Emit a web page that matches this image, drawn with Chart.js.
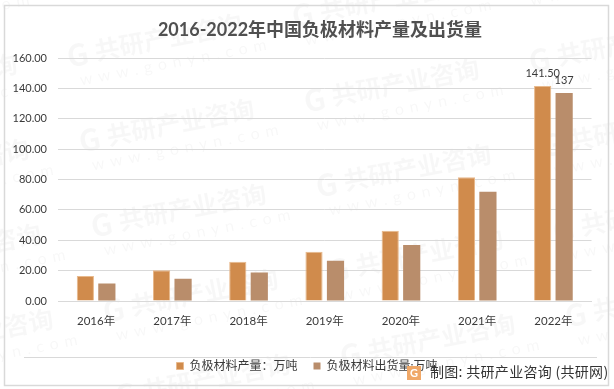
<!doctype html>
<html lang="zh">
<head>
<meta charset="utf-8">
<title>2016-2022年中国负极材料产量及出货量</title>
<script src="https://cdn.jsdelivr.net/npm/chart.js"></script>
<style>
	html, body { margin: 0; padding: 0; background: #fff; }
	#wrap { width: 614px; height: 389px; }
</style>
</head>
<body>
<div id="wrap"><canvas id="chart" width="614" height="389"></canvas></div>
<script>
const years = ['2016年', '2017年', '2018年', '2019年', '2020年', '2021年', '2022年'];
const output = [16.5, 20.3, 25.8, 32.5, 46.2, 81.5, 141.5];
const shipments = [11.5, 14.7, 18.7, 26.5, 36.8, 72, 137];
const outputLabel = '负极材料产量\uFF1A万吨';
const shipmentsLabel = '负极材料出货量:万吨';
const titleText = '2016-2022年中国负极材料产量及出货量';
const sourceText = '制图: 共研产业咨询 (共研网)';

const font = 'Lato, "Noto Sans CJK SC", sans-serif';
const textColor = '#3a3a3a';

// faint repeated watermark, frame, separator line
const backdrop = {
	id: 'backdrop',
	beforeDraw(chart) {
		const c = chart.ctx;
		c.save();
		c.fillStyle = '#fff';
		c.fillRect(0, 0, 614, 389);
		for (let i = -1; i < 5; i++) {
			for (let j = -1; j < 3; j++) {
				const x = 75 + i * 12 + j * 225;
				const y = 55 + i * 85 - j * 40;
				c.save();
				c.translate(x, y);
				c.rotate(-0.19);
				c.fillStyle = 'rgba(0,0,0,0.03)';
				c.textBaseline = 'middle';
				c.font = 'bold 30px "Noto Sans CJK SC"';
				c.fillText('G', -8, 0);
				c.font = 'bold 25px "Noto Sans CJK SC"';
				c.fillText('共研产业咨询', 20, 0);
				c.font = '16px Lato';
				c.letterSpacing = '6px';
				c.fillText('www.gonyn.com', 0, 26);
				c.restore();
			}
		}
		c.strokeStyle = '#d9d9d9';
		c.lineWidth = 1.5;
		c.strokeRect(4.5, 5.5, 604, 380);
		c.lineWidth = 1;
		c.beginPath();
		c.moveTo(24, 357.5);
		c.lineTo(597, 357.5);
		c.stroke();
		c.restore();
	},
	afterDraw(chart) {
		const c = chart.ctx;
		c.save();
		// title sits right of the canvas centre in the reference
		c.fillStyle = '#505050';
		c.font = 'bold 18px ' + font;
		c.textAlign = 'center';
		c.textBaseline = 'middle';
		c.fillText(titleText, 320, 30);
		// value labels on the last year only
		c.fillStyle = textColor;
		c.font = '11px ' + font;
		c.textBaseline = 'bottom';
		const last = years.length - 1;
		const a = chart.getDatasetMeta(0).data[last];
		const b = chart.getDatasetMeta(1).data[last];
		c.fillText(output[last].toFixed(2), a.x, a.y - 7);
		c.fillText(String(shipments[last]), b.x, b.y - 7);
		// source logo and text
		c.fillStyle = '#f0a868';
		c.fillRect(407, 366, 14, 14);
		c.fillStyle = '#fff';
		c.font = 'bold 11px Lato';
		c.textBaseline = 'middle';
		c.fillText('G', 414, 373);
		c.fillStyle = '#333';
		c.font = '14px "Noto Sans CJK SC"';
		c.letterSpacing = '0.3px';
		c.textAlign = 'left';
		c.fillText(sourceText, 430, 372);
		c.restore();
	}
};

new Chart(document.getElementById('chart'), {
	type: 'bar',
	data: {
		labels: years,
		datasets: [
			{ label: outputLabel, data: output, backgroundColor: '#d08b4c', borderColor: '#e8b98c', borderWidth: 1 },
			{ label: shipmentsLabel, data: shipments, backgroundColor: '#b98d6b', borderWidth: 0 }
		]
	},
	options: {
		responsive: false,
		animation: false,
		layout: { padding: { left: 0, right: 0, top: 58, bottom: 7 } },
		datasets: { bar: { categoryPercentage: 0.564, barPercentage: 0.8 } },
		plugins: {
			title: { display: false },
			legend: {
				position: 'bottom',
				labels: {
					color: textColor,
					font: { family: font, size: 12 },
					boxWidth: 7,
					boxHeight: 7,
					padding: 16
				}
			},
			tooltip: { enabled: false }
		},
		scales: {
			x: {
				afterFit(s) { s.height = 43; },
				grid: { display: false },
				border: { color: '#d9d9d9' },
				ticks: { color: textColor, font: { family: font, size: 11.5 }, padding: 5, maxRotation: 0 }
			},
			y: {
				min: 0,
				max: 160,
				afterFit(s) { s.width = 58; },
				grid: { color: '#d9d9d9', drawTicks: false },
				border: { display: false },
				ticks: {
					stepSize: 20,
					color: textColor,
					font: { family: font, size: 11 },
					padding: 11,
					callback: v => v.toFixed(2)
				}
			},
			// empty axis, only keeps the plot clear of the right edge
			spacer: {
				position: 'right',
				afterFit(s) { s.width = 22.5; },
				grid: { display: false },
				border: { display: false },
				ticks: { display: false }
			}
		}
	},
	plugins: [backdrop]
});
</script>
</body>
</html>
